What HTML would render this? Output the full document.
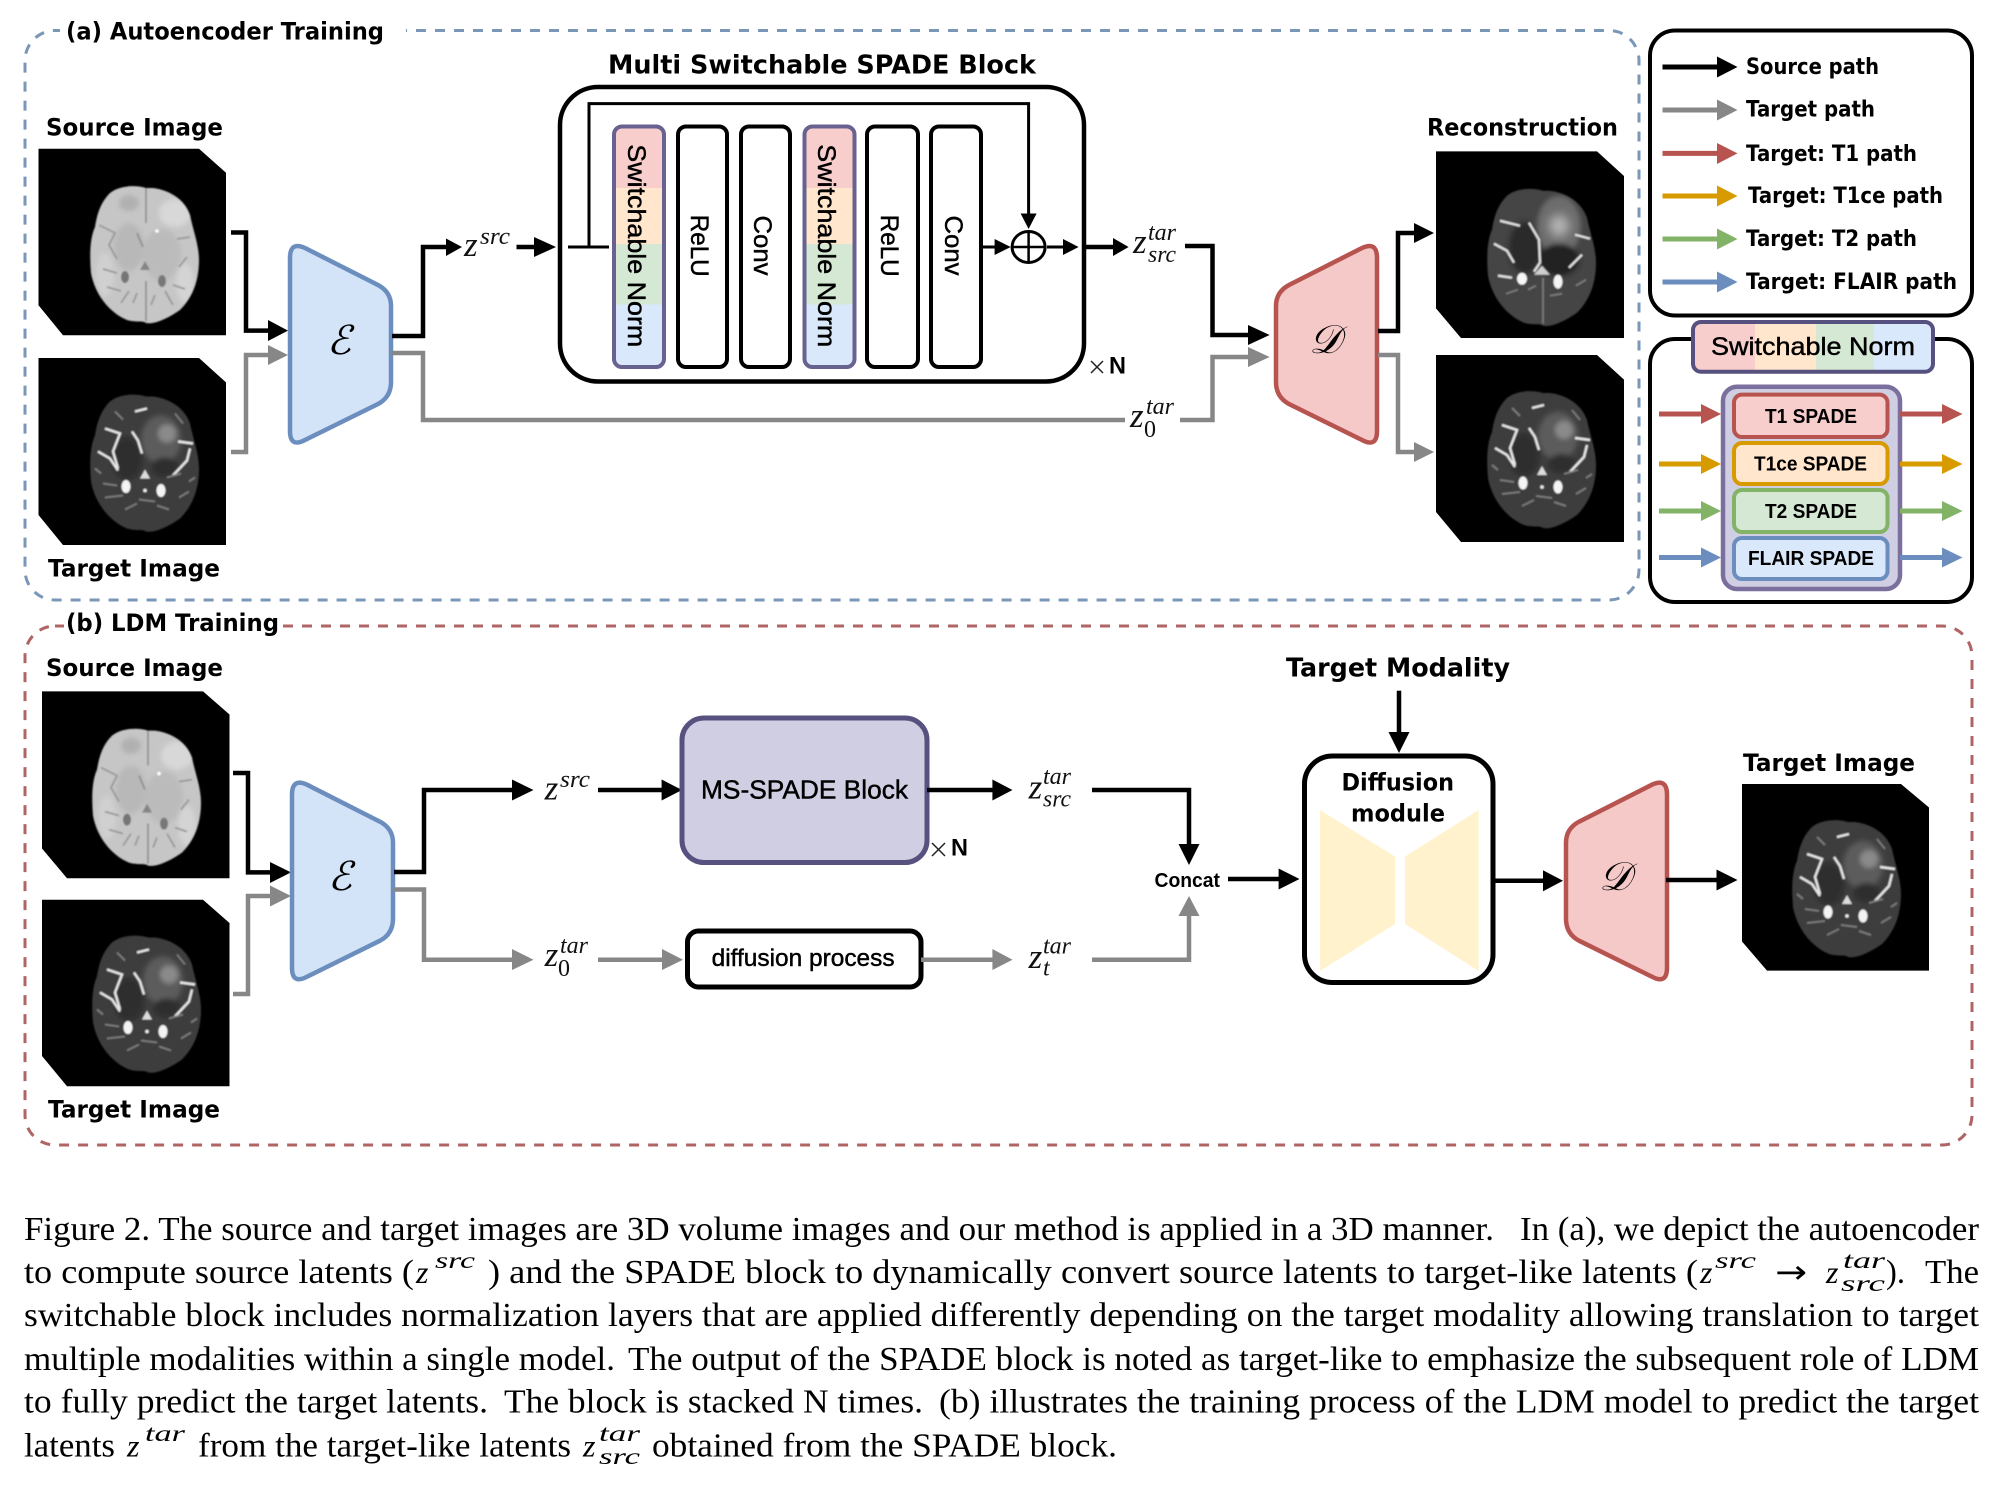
<!DOCTYPE html>
<html><head><meta charset="utf-8"><style>
html,body{margin:0;padding:0;background:#fff}
svg{display:block}
text{white-space:pre}
.l{font-family:"DejaVu Sans","Liberation Sans",sans-serif;font-weight:bold;font-size:24px;fill:#000}
.h{font-family:"Liberation Sans",sans-serif;font-size:25px;fill:#000;stroke:#000;stroke-width:.45}
.b{font-family:"Liberation Sans",sans-serif;font-weight:bold;font-size:24px;fill:#000}
.m{font-family:"Liberation Serif",serif;font-style:italic;font-size:35px;fill:#111}
.s{font-family:"Liberation Serif",serif;font-style:italic;font-size:24px;fill:#111}
.c{font-family:"Liberation Serif",serif;font-size:34px;fill:#000}
.ci{font-family:"Liberation Serif",serif;font-style:italic;font-size:32px;fill:#000}
.cs{font-family:"Liberation Serif",serif;font-style:italic;font-size:23px;fill:#000}
.k{fill:none;stroke:#000;stroke-width:4.5}
.g{fill:none;stroke:#878787;stroke-width:4.5}
</style></head><body>
<svg width="2000" height="1491" viewBox="0 0 2000 1491" xmlns="http://www.w3.org/2000/svg">
<defs>
<filter id="bl" x="-10%" y="-10%" width="120%" height="120%"><feGaussianBlur stdDeviation="0.8"/></filter>
<filter id="bl1" x="-30%" y="-30%" width="160%" height="160%"><feGaussianBlur stdDeviation="2.5"/></filter>
<filter id="bl2" x="-50%" y="-50%" width="200%" height="200%"><feGaussianBlur stdDeviation="5"/></filter>
<clipPath id="bc"><path d="M1,-67C-8,-70-25,-70-35,-62C-45,-52-48,-40-50,-28C-56,-15-55,5-54,18C-50,40-35,58-18,65C-8,68-3,65 1,68C10,70 25,62 35,55C48,42 54,25 54,5C54,-10 48,-25 45,-40C40,-55 25,-65 8,-67Z"/></clipPath>
<path id="bs" d="M1,-67C-8,-70-25,-70-35,-62C-45,-52-48,-40-50,-28C-56,-15-55,5-54,18C-50,40-35,58-18,65C-8,68-3,65 1,68C10,70 25,62 35,55C48,42 54,25 54,5C54,-10 48,-25 45,-40C40,-55 25,-65 8,-67Z"/>
<g id="t1" filter="url(#bl)">
<use href="#bs" fill="#c6c6c6"/>
<g clip-path="url(#bc)">
<g filter="url(#bl1)">
<ellipse cx="-16" cy="-8" rx="15" ry="24" fill="#b8b8b8"/><ellipse cx="17" cy="0" rx="19" ry="26" fill="#bbb"/>
<ellipse cx="-16" cy="-52" rx="10" ry="8" fill="#b0b0b0"/><ellipse cx="30" cy="-42" rx="16" ry="14" fill="#d8d8d8"/>
<ellipse cx="-40" cy="20" rx="9" ry="22" fill="#d0d0d0"/><ellipse cx="40" cy="28" rx="9" ry="20" fill="#d4d4d4"/>
</g>
<ellipse cx="-20" cy="22" rx="4" ry="6" fill="#747474"/><ellipse cx="17" cy="26" rx="4" ry="6" fill="#787878"/>
<path d="M1,-67V-32M-8,-22L-2,-8M0,8L0,14M1,26V66" stroke="#8c8c8c" stroke-width="1.6" fill="none"/>
<polygon points="0,6 -5,15 5,15" fill="#858585"/>
<path d="M-46,-30L-30,-22L-36,-10L-28,4M45,-18L32,-16M42,2L34,12M-42,14L-28,18M-38,32L-24,36M-24,48L-16,36M28,50L20,36M40,34L28,30M10,40L6,50M-8,38L-12,48" stroke="#989898" stroke-width="1.8" fill="none"/>
<circle cx="12" cy="-24" r="1.8" fill="#fff"/>
</g>
</g>
<g id="t2" filter="url(#bl)">
<use href="#bs" fill="#3e3e3e"/>
<g clip-path="url(#bc)">
<g filter="url(#bl1)">
<ellipse cx="-18" cy="-5" rx="16" ry="22" fill="#2e2e2e"/>
<ellipse cx="16" cy="-24" rx="20" ry="24" fill="#5c5c5c"/><ellipse cx="22" cy="-30" rx="9" ry="9" fill="#8a8a8a"/>
<ellipse cx="20" cy="4" rx="14" ry="10" fill="#2e2e2e"/>
</g>
<path d="M-40,-35L-25,-30L-32,-12L-27,5M-47,-12L-35,-5L-27,7M-13,-32L-7,-23L-3,-10M48,-20L33,-22M45,-15L42,-3L28,12M-10,-52L2,-55" stroke="#e6e6e6" stroke-width="2.4" fill="none"/>
<path d="M-42,20L-28,22M-40,34L-22,32M-20,46L-8,40M12,42L24,46M34,34L44,28M22,14L36,10M-6,36L10,38M-30,-52L-22,-44M30,-50L38,-40M-50,5L-44,10M50,14L44,18" stroke="#7e7e7e" stroke-width="1.8" fill="none"/>
<ellipse cx="-19" cy="23" rx="4.5" ry="6.5" fill="#f4f4f4"/><ellipse cx="16" cy="27" rx="4.5" ry="6.5" fill="#f4f4f4"/>
<polygon points="0,6 -5,15 5,15" fill="#ddd"/><circle cx="0" cy="27" r="1.8" fill="#eee"/>
</g>
</g>
<g id="t3" filter="url(#bl)">
<use href="#bs" fill="#444"/>
<g clip-path="url(#bc)">
<g filter="url(#bl1)">
<ellipse cx="-17" cy="-10" rx="16" ry="26" fill="#2c2c2c"/>
<ellipse cx="17" cy="-32" rx="22" ry="30" fill="#6c6c6c"/>
<ellipse cx="17" cy="2" rx="20" ry="16" fill="#222"/>
</g>
<ellipse cx="17" cy="-32" rx="10" ry="11" fill="#b4b4b4" filter="url(#bl2)"/>
<path d="M-42,-37L-22,-32M-48,-14L-35,-7L-28,5M-13,-35L-3,-18L-2,5L-8,14M33,-23L48,-19M40,-3L27,10M-44,18L-30,20" stroke="#e0e0e0" stroke-width="2.3" fill="none"/>
<path d="M-36,36L-24,32M-14,32L-6,28M8,38L20,36M34,28L44,22M1,20V66" stroke="#7c7c7c" stroke-width="1.8" fill="none"/>
<ellipse cx="-20" cy="21" rx="5" ry="6" fill="#f6f6f6"/><ellipse cx="16" cy="24" rx="4.5" ry="7" fill="#f4f4f4"/>
<polygon points="0,8 -8,17 8,17" fill="#cfcfcf"/>
</g>
</g>
<path id="tr" d="M290,258Q290,241 305,248L378,285Q391,292 391,306L391,382Q391,397 378,404L305,440Q290,448 290,431Z"/>
</defs>

<!-- section frames -->
<rect x="25" y="30.5" width="1614" height="569.5" rx="30" fill="none" stroke="#7a97b8" stroke-width="3" stroke-dasharray="10 9"/>
<rect x="60" y="20" width="346" height="24" fill="#fff"/>
<text class="l" x="66" y="39.5" textLength="318" lengthAdjust="spacingAndGlyphs">(a) Autoencoder Training</text>
<rect x="25" y="626" width="1947" height="519" rx="30" fill="none" stroke="#b06464" stroke-width="3" stroke-dasharray="10 9"/>
<rect x="64" y="612" width="217" height="26" fill="#fff"/>
<text class="l" x="66" y="631" textLength="213" lengthAdjust="spacingAndGlyphs">(b) LDM Training</text>

<!-- section a images -->
<text class="l" x="46" y="135.6" textLength="177" lengthAdjust="spacingAndGlyphs">Source Image</text>
<polygon points="38.5,148.7 199,148.7 226,172.8 226,335.3 63,335.3 38.5,305.3"/>
<use href="#t1" transform="translate(145,255)"/>
<polygon points="38.5,358 199,358 226,382.4 226,545 63,545 38.5,515"/>
<use href="#t2" transform="translate(145,463.5)"/>
<text class="l" x="48" y="576.5" textLength="172" lengthAdjust="spacingAndGlyphs">Target Image</text>

<!-- a: inputs -->
<path class="k" d="M231,232.5H246V330.6H268"/><polygon points="268,320 288,330.6 268,341"/>
<path class="g" d="M231,452H246V355H268"/><polygon fill="#878787" points="268,345 288,355 268,365"/>
<use href="#tr" fill="#d4e4f8" stroke="#6c8ebf" stroke-width="4.5"/>
<text x="339" y="354" font-family="Liberation Serif,DejaVu Serif,serif" font-style="italic" font-size="40" text-anchor="middle">ℰ</text>
<path class="k" d="M392,336H423V247H446"/><polygon points="446,238.5 462,247 446,256"/>
<path class="g" d="M392,353H423V420H1125"/>
<text class="m" x="464" y="256">z</text><text class="s" x="480" y="244" textLength="30" lengthAdjust="spacingAndGlyphs">src</text>
<path class="k" d="M516.5,247H534"/><polygon points="534,237 556,247 534,257"/>

<!-- a: block -->
<text class="l" x="608" y="73.5" textLength="428" lengthAdjust="spacingAndGlyphs" style="font-size:26px">Multi Switchable SPADE Block</text>
<rect x="560" y="87" width="524" height="294.5" rx="38" fill="#fff" stroke="#000" stroke-width="4.5"/>
<path d="M568,247H609M589,247V103.6H1028.6V214" fill="none" stroke="#000" stroke-width="3"/>
<polygon points="1020.6,213.5 1036.6,213.5 1028.6,229"/>

<g id="sn">
<rect x="614" y="126.5" width="50" height="240.5" rx="8" fill="#f8cecc"/>
<rect x="614" y="188" width="50" height="56" fill="#ffe6cc"/>
<rect x="614" y="244" width="50" height="60.5" fill="#d5e8d4"/>
<path d="M614,304.5H664V359Q664,367 656,367H622Q614,367 614,359Z" fill="#dae8fc"/>
<rect x="614" y="126.5" width="50" height="240.5" rx="8" fill="none" stroke="#67628f" stroke-width="4"/>
</g>
<use href="#sn" transform="translate(190.5,0)"/>
<text class="h" transform="translate(628,144.3) rotate(90)" textLength="203" lengthAdjust="spacingAndGlyphs">Switchable Norm</text>
<text class="h" transform="translate(818,144.3) rotate(90)" textLength="203" lengthAdjust="spacingAndGlyphs">Switchable Norm</text>
<rect x="678" y="126.5" width="49" height="240.5" rx="8" fill="#fff" stroke="#000" stroke-width="4"/>
<rect x="741" y="126.5" width="49" height="240.5" rx="8" fill="#fff" stroke="#000" stroke-width="4"/>
<rect x="867" y="126.5" width="51" height="240.5" rx="8" fill="#fff" stroke="#000" stroke-width="4"/>
<rect x="931" y="126.5" width="50" height="240.5" rx="8" fill="#fff" stroke="#000" stroke-width="4"/>
<text class="h" transform="translate(691,214.7) rotate(90)" textLength="62" lengthAdjust="spacingAndGlyphs">ReLU</text>
<text class="h" transform="translate(754,215.5) rotate(90)" textLength="60" lengthAdjust="spacingAndGlyphs">Conv</text>
<text class="h" transform="translate(881,214.7) rotate(90)" textLength="62" lengthAdjust="spacingAndGlyphs">ReLU</text>
<text class="h" transform="translate(945,215.5) rotate(90)" textLength="60" lengthAdjust="spacingAndGlyphs">Conv</text>

<ellipse cx="1028.6" cy="247" rx="16.5" ry="15.5" fill="#fff" stroke="#000" stroke-width="3"/>
<path d="M1012,247H1045M1028.6,231.5V262.5" stroke="#000" stroke-width="2.5"/>
<path d="M981,247H995M1047,247H1063" stroke="#000" stroke-width="3"/>
<polygon points="994.6,239 1010.7,247 994.6,255"/><polygon points="1063,239 1078.6,247 1063,255"/>
<path class="k" d="M1085,247H1113"/><polygon points="1113,238 1128.6,247 1113,256"/>
<text class="m" x="1133" y="253">z</text><text class="s" x="1148" y="240" textLength="28" lengthAdjust="spacingAndGlyphs">tar</text><text class="s" x="1148" y="262" textLength="28" lengthAdjust="spacingAndGlyphs">src</text>
<path class="k" d="M1185,246H1212.5V335H1248"/><polygon points="1248,325 1269.6,335 1248,345"/>
<text class="m" x="1130" y="427">z</text><text class="s" x="1146" y="414" textLength="28" lengthAdjust="spacingAndGlyphs">tar</text><text class="s" x="1144" y="437" style="font-style:normal">0</text>
<path class="g" d="M1180,420H1212.5V357H1248"/><polygon fill="#878787" points="1248,347 1269.6,357 1248,367"/>
<path d="M1091,361L1103,373M1103,361L1091,373" stroke="#222" stroke-width="1.5"/>
<text class="b" x="1109" y="373.7" textLength="17" lengthAdjust="spacingAndGlyphs">N</text>

<!-- a: decoder -->
<use href="#tr" transform="translate(1667,0) scale(-1,1)" fill="#f5c9c8" stroke="#b85450" stroke-width="4.5"/>
<text x="1325" y="353" font-family="Liberation Serif,DejaVu Serif,serif" font-style="italic" font-size="40" text-anchor="middle">𝒟</text>
<path class="k" d="M1378,331H1398V233H1414"/><polygon points="1414,223 1434,233 1414,243"/>
<path class="g" d="M1378,355H1398V452H1414"/><polygon fill="#878787" points="1414,442 1434,452 1414,462"/>
<text class="l" x="1427" y="135.6" textLength="191" lengthAdjust="spacingAndGlyphs">Reconstruction</text>
<polygon points="1436,151.4 1597,151.4 1624,176 1624,338 1461,338 1436,308.4"/>
<use href="#t3" transform="translate(1542,257.7)"/>
<polygon points="1436,355 1597,355 1624,379.6 1624,542 1461,542 1436,512"/>
<use href="#t2" transform="translate(1542,460)"/>

<!-- legend -->
<rect x="1650" y="30.5" width="322" height="285" rx="25" fill="#fff" stroke="#000" stroke-width="4"/>
<g stroke-width="5">
<path d="M1662.5,67H1717" stroke="#000"/><polygon points="1717,56.5 1737.5,67 1717,77.5" fill="#000"/>
<path d="M1662.5,110H1717" stroke="#878787"/><polygon points="1717,99.5 1737.5,110 1717,120.5" fill="#878787"/>
<path d="M1662.5,153.4H1717" stroke="#b85450"/><polygon points="1717,143 1737.5,153.4 1717,164" fill="#b85450"/>
<path d="M1662.5,196H1717" stroke="#d79b00"/><polygon points="1717,185.5 1737.5,196 1717,206.5" fill="#d79b00"/>
<path d="M1662.5,239H1717" stroke="#82b366"/><polygon points="1717,228.5 1737.5,239 1717,249.5" fill="#82b366"/>
<path d="M1662.5,282H1717" stroke="#6c8ebf"/><polygon points="1717,271.5 1737.5,282 1717,292.5" fill="#6c8ebf"/>
</g>
<text class="l" style="font-size:22px" x="1746" y="74" textLength="133" lengthAdjust="spacingAndGlyphs">Source path</text>
<text class="l" style="font-size:22px" x="1746" y="116.6" textLength="129" lengthAdjust="spacingAndGlyphs">Target path</text>
<text class="l" style="font-size:22px" x="1746" y="161" textLength="171" lengthAdjust="spacingAndGlyphs">Target: T1 path</text>
<text class="l" style="font-size:22px" x="1748" y="203" textLength="195" lengthAdjust="spacingAndGlyphs">Target: T1ce path</text>
<text class="l" style="font-size:22px" x="1746" y="246" textLength="171" lengthAdjust="spacingAndGlyphs">Target: T2 path</text>
<text class="l" style="font-size:22px" x="1746" y="289" textLength="211" lengthAdjust="spacingAndGlyphs">Target: FLAIR path</text>

<!-- switchable norm panel -->
<rect x="1650" y="339" width="322" height="263" rx="25" fill="#fff" stroke="#000" stroke-width="4"/>
<rect x="1693" y="322" width="240" height="49.7" rx="8" fill="#f8cecc"/>
<rect x="1755" y="322" width="61" height="49.7" fill="#ffe6cc"/><rect x="1816" y="322" width="58" height="49.7" fill="#d5e8d4"/>
<path d="M1874,322H1925Q1933,322 1933,330V363.7Q1933,371.7 1925,371.7H1874Z" fill="#dae8fc"/>
<rect x="1693" y="322" width="240" height="49.7" rx="8" fill="none" stroke="#56517e" stroke-width="4"/>
<text class="h" x="1711" y="355" textLength="204" lengthAdjust="spacingAndGlyphs">Switchable Norm</text>
<rect x="1723" y="386.7" width="177" height="202.3" rx="14" fill="#d0cee2" stroke="#7b6f9e" stroke-width="4.5"/>
<rect x="1734" y="394.6" width="153.5" height="42.4" rx="8" fill="#f8cecc" stroke="#b85450" stroke-width="4"/>
<rect x="1734" y="443" width="153.5" height="41" rx="8" fill="#ffe6cc" stroke="#d79b00" stroke-width="4"/>
<rect x="1734" y="490" width="153.5" height="42" rx="8" fill="#d5e8d4" stroke="#82b366" stroke-width="4"/>
<rect x="1734" y="538" width="153.5" height="41" rx="8" fill="#dae8fc" stroke="#6c8ebf" stroke-width="4"/>
<text class="b" style="font-size:20px" x="1765" y="423" textLength="92" lengthAdjust="spacingAndGlyphs">T1 SPADE</text>
<text class="b" style="font-size:20px" x="1754" y="470.5" textLength="113" lengthAdjust="spacingAndGlyphs">T1ce SPADE</text>
<text class="b" style="font-size:20px" x="1765" y="518" textLength="92" lengthAdjust="spacingAndGlyphs">T2 SPADE</text>
<text class="b" style="font-size:20px" x="1748" y="565" textLength="126" lengthAdjust="spacingAndGlyphs">FLAIR SPADE</text>
<g stroke-width="5">
<path d="M1659,414H1701M1900,414H1942" stroke="#b85450"/><polygon fill="#b85450" points="1701,404 1721,414 1701,424"/><polygon fill="#b85450" points="1942,404 1962.5,414 1942,424"/>
<path d="M1659,464H1701M1900,464H1942" stroke="#d79b00"/><polygon fill="#d79b00" points="1701,454 1721,464 1701,474"/><polygon fill="#d79b00" points="1942,454 1962.5,464 1942,474"/>
<path d="M1659,511H1701M1900,511H1942" stroke="#82b366"/><polygon fill="#82b366" points="1701,501 1721,511 1701,521"/><polygon fill="#82b366" points="1942,501 1962.5,511 1942,521"/>
<path d="M1659,557.5H1701M1900,557.5H1942" stroke="#6c8ebf"/><polygon fill="#6c8ebf" points="1701,547.5 1721,557.5 1701,567.5"/><polygon fill="#6c8ebf" points="1942,547.5 1962.5,557.5 1942,567.5"/>
</g>

<!-- section b -->
<text class="l" x="46" y="676" textLength="177" lengthAdjust="spacingAndGlyphs">Source Image</text>
<polygon points="42,691.4 203,691.4 229.5,714.5 229.5,878.3 67,878.3 42,848.5"/>
<use href="#t1" transform="translate(147,797.6)"/>
<polygon points="42,899.7 203,899.7 229.5,923 229.5,1086.3 67,1086.3 42,1056"/>
<use href="#t2" transform="translate(147,1004.5)"/>
<text class="l" x="48" y="1117.5" textLength="172" lengthAdjust="spacingAndGlyphs">Target Image</text>
<path class="k" d="M233,773H248V872.4H270"/><polygon points="270,862 291,872.4 270,883"/>
<path class="g" d="M233,994H248V896H270"/><polygon fill="#878787" points="270,885.5 291,896 270,906.5"/>
<use href="#tr" transform="translate(2,536.7)" fill="#d4e4f8" stroke="#6c8ebf" stroke-width="4.5"/>
<text x="340" y="890" font-family="Liberation Serif,DejaVu Serif,serif" font-style="italic" font-size="40" text-anchor="middle">ℰ</text>
<path class="k" d="M394,872H424V790H512"/><polygon points="512,779.5 533.5,790 512,800.5"/>
<path class="g" d="M394,889.5H424V959.7H512"/><polygon fill="#878787" points="512,949 533.5,959.7 512,970"/>
<text class="m" x="544.6" y="799.4">z</text><text class="s" x="560" y="787" textLength="30" lengthAdjust="spacingAndGlyphs">src</text>
<text class="m" x="544.6" y="966">z</text><text class="s" x="560" y="953" textLength="28" lengthAdjust="spacingAndGlyphs">tar</text><text class="s" x="558" y="976" style="font-style:normal">0</text>
<path class="k" d="M598,790H662"/><polygon points="661.6,779.5 682,790 661.6,800.5"/>
<path class="g" d="M598,959.7H663"/><polygon fill="#878787" points="662,949 683,959.7 662,970"/>
<rect x="682" y="718" width="245" height="144.5" rx="22" fill="#d0cee2" stroke="#56517e" stroke-width="5"/>
<text class="h" style="font-size:26px" x="701" y="798.7" textLength="207" lengthAdjust="spacingAndGlyphs">MS-SPADE Block</text>
<path class="k" d="M927,790H993"/><polygon points="992.4,779.5 1012.5,790 992.4,800.5"/>
<path d="M932,843L945,856M945,843L932,856" stroke="#222" stroke-width="1.5"/>
<text class="b" x="951" y="855.5" textLength="17" lengthAdjust="spacingAndGlyphs">N</text>
<rect x="687.5" y="931" width="233.5" height="56" rx="11" fill="#fff" stroke="#000" stroke-width="5"/>
<text class="h" style="font-size:24px" x="711.6" y="966" textLength="183" lengthAdjust="spacingAndGlyphs">diffusion process</text>
<path class="g" d="M921,959.7H993"/><polygon fill="#878787" points="992.4,949 1012.5,959.7 992.4,970"/>
<text class="m" x="1028.6" y="798.7">z</text><text class="s" x="1043" y="784" textLength="28" lengthAdjust="spacingAndGlyphs">tar</text><text class="s" x="1043" y="806.4" textLength="28" lengthAdjust="spacingAndGlyphs">src</text>
<text class="m" x="1028.6" y="967.8">z</text><text class="s" x="1043" y="953.7" textLength="28" lengthAdjust="spacingAndGlyphs">tar</text><text class="s" x="1043" y="975.5">t</text>
<path class="k" d="M1092,790H1189V845"/><polygon points="1178.5,844 1199.5,844 1189,865"/>
<path class="g" d="M1092,959.7H1189V916"/><polygon fill="#878787" points="1178.5,916 1199.5,916 1189,896"/>
<text class="b" style="font-size:20px" x="1154.5" y="887" textLength="65.5" lengthAdjust="spacingAndGlyphs">Concat</text>
<path class="k" d="M1228,879H1279"/><polygon points="1278.6,868.5 1299.5,879 1278.6,889.5"/>
<text class="l" style="font-size:26px" x="1286" y="676.6" textLength="224" lengthAdjust="spacingAndGlyphs">Target Modality</text>
<path class="k" d="M1399,690.7V733"/><polygon points="1388.5,732 1409.5,732 1399,753"/>
<rect x="1304.5" y="756" width="188.5" height="226.5" rx="28" fill="#fff" stroke="#000" stroke-width="5"/>
<polygon points="1320,810 1395,856.6 1395,924 1320,971" fill="#fff2cc"/>
<polygon points="1478.6,810 1405,856.6 1405,924 1478.6,971" fill="#fff2cc"/>
<text class="l" x="1341.5" y="790.6" textLength="112.5" lengthAdjust="spacingAndGlyphs">Diffusion</text>
<text class="l" x="1351" y="821.5" textLength="94" lengthAdjust="spacingAndGlyphs">module</text>
<path class="k" d="M1493,880.8H1544"/><polygon points="1543,870.3 1563,880.8 1543,891.3"/>
<use href="#tr" transform="translate(1957,536.7) scale(-1,1)" fill="#f5c9c8" stroke="#b85450" stroke-width="4.5"/>
<text x="1615" y="890" font-family="Liberation Serif,DejaVu Serif,serif" font-style="italic" font-size="40" text-anchor="middle">𝒟</text>
<path class="k" d="M1666,880H1717"/><polygon points="1716.5,869.5 1737.5,880 1716.5,890.5"/>
<text class="l" x="1743" y="771" textLength="172" lengthAdjust="spacingAndGlyphs">Target Image</text>
<polygon points="1742,784 1901,784 1929,807.5 1929,970.6 1767,970.6 1742,941.5"/>
<use href="#t2" transform="translate(1847,889)"/>

<!-- caption -->
<text class="c" x="24" y="1240" textLength="1470" lengthAdjust="spacingAndGlyphs">Figure 2. The source and target images are 3D volume images and our method is applied in a 3D manner.</text>
<text class="c" x="1520" y="1240" textLength="459" lengthAdjust="spacingAndGlyphs">In (a), we depict the autoencoder</text>

<text class="c" x="24" y="1283" textLength="390" lengthAdjust="spacingAndGlyphs">to compute source latents (</text>
<text class="ci" x="416" y="1283">z</text><text class="cs" x="435" y="1268" textLength="40" lengthAdjust="spacingAndGlyphs">src</text>
<text class="c" x="488" y="1283" textLength="1210" lengthAdjust="spacingAndGlyphs">) and the SPADE block to dynamically convert source latents to target-like latents (</text>
<text class="ci" x="1700" y="1283">z</text><text class="cs" x="1715" y="1268" textLength="41" lengthAdjust="spacingAndGlyphs">src</text>
<text x="1775" y="1283" font-family="DejaVu Sans,sans-serif" font-size="32" textLength="32" lengthAdjust="spacingAndGlyphs">→</text>
<text class="ci" x="1826" y="1283">z</text><text class="cs" x="1843" y="1268" textLength="42" lengthAdjust="spacingAndGlyphs">tar</text><text class="cs" x="1841" y="1291" textLength="44" lengthAdjust="spacingAndGlyphs">src</text>
<text class="c" x="1886" y="1283" textLength="19" lengthAdjust="spacingAndGlyphs">).</text>
<text class="c" x="1925" y="1283" textLength="54" lengthAdjust="spacingAndGlyphs">The</text>

<text class="c" x="24" y="1326" textLength="1955" lengthAdjust="spacingAndGlyphs">switchable block includes normalization layers that are applied differently depending on the target modality allowing translation to target</text>

<text class="c" x="24" y="1370" textLength="591" lengthAdjust="spacingAndGlyphs">multiple modalities within a single model.</text>
<text class="c" x="628" y="1370" textLength="1351" lengthAdjust="spacingAndGlyphs">The output of the SPADE block is noted as target-like to emphasize the subsequent role of LDM</text>

<text class="c" x="24" y="1412.7" textLength="464" lengthAdjust="spacingAndGlyphs">to fully predict the target latents.</text>
<text class="c" x="504" y="1412.7" textLength="419" lengthAdjust="spacingAndGlyphs">The block is stacked N times.</text>
<text class="c" x="939" y="1412.7" textLength="1040" lengthAdjust="spacingAndGlyphs">(b) illustrates the training process of the LDM model to predict the target</text>

<text class="c" x="24" y="1456.7" textLength="91" lengthAdjust="spacingAndGlyphs">latents</text>
<text class="ci" x="127" y="1456.7">z</text><text class="cs" x="145" y="1441" textLength="40" lengthAdjust="spacingAndGlyphs">tar</text>
<text class="c" x="198" y="1456.7" textLength="373" lengthAdjust="spacingAndGlyphs">from the target-like latents</text>
<text class="ci" x="583" y="1456.7">z</text><text class="cs" x="599" y="1441" textLength="41" lengthAdjust="spacingAndGlyphs">tar</text><text class="cs" x="599" y="1464" textLength="41" lengthAdjust="spacingAndGlyphs">src</text>
<text class="c" x="652" y="1456.7" textLength="465" lengthAdjust="spacingAndGlyphs">obtained from the SPADE block.</text>
</svg>
</body></html>
